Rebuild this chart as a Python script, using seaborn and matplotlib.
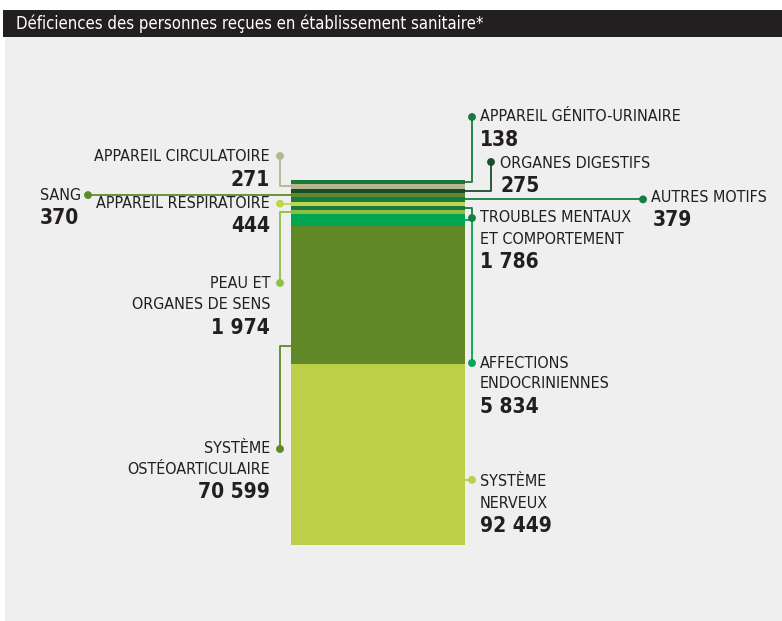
import matplotlib
matplotlib.use("Agg")
import matplotlib.pyplot as plt
import seaborn as sns
import numpy as np
from matplotlib.patches import Rectangle

title = "Déficiences des personnes reçues en établissement sanitaire*"

# slices of the column, listed from the top down
names = ["APPAREIL GÉNITO-URINAIRE", "APPAREIL CIRCULATOIRE", "ORGANES DIGESTIFS", "SANG",
         "AUTRES MOTIFS", "APPAREIL RESPIRATOIRE", "TROUBLES MENTAUX\nET COMPORTEMENT",
         "PEAU ET\nORGANES DE SENS", "AFFECTIONS\nENDOCRINIENNES", "SYSTÈME\nOSTÉOARTICULAIRE",
         "SYSTÈME\nNERVEUX"]
counts = [138, 271, 275, 370, 379, 444, 1786, 1974, 5834, 70599, 92449]
colors = ["#187a3c", "#b7b68c", "#1b4b2a", "#5f8a2a", "#187c42", "#c2d34c",
          "#1a7c3e", "#8cbf44", "#00a651", "#618826", "#bdcf48"]

sns.set_theme(style="white")
plt.rcParams["font.family"] = ["DejaVu Sans"]
plt.rcParams["font.stretch"] = "condensed"

W, H = 782, 621
fig = plt.figure(figsize=(W / 100, H / 100), dpi=100)
fig.patch.set_facecolor("white")

# background + title band, in pixel coords
bg = fig.add_axes([0, 0, 1, 1], zorder=0)
bg.set_xlim(0, W)
bg.set_ylim(H, 0)
bg.axis("off")
bg.add_patch(Rectangle((5, 37), W - 5, H - 37, color="#efefef", lw=0))
bg.add_patch(Rectangle((3, 10), W - 3, 27, color="#231f20", lw=0))
bg.text(16, 23.5, title, color="white", fontsize=12, va="center", ha="left")

# the column itself; the thin slices are given a minimum height so they stay visible
shown = np.maximum(np.array(counts), 2200)
total = shown.sum()
tops = total - np.concatenate([[0], np.cumsum(shown)[:-1]])
bottoms = tops - shown

bar_l, bar_r, bar_t, bar_b = 291, 465, 180, 545
ax = fig.add_axes([bar_l / W, (H - bar_b) / H, (bar_r - bar_l) / W, (bar_b - bar_t) / H], zorder=1)
for h, b, c in zip(shown, bottoms, colors):
    ax.bar(0, h, bottom=b, width=1, color=c, linewidth=0)
ax.set_xlim(-0.5, 0.5)
ax.set_ylim(0, total)
ax.axis("off")

# overlay for leaders and labels (pixel coords)
ov = fig.add_axes([0, 0, 1, 1], zorder=2)
ov.set_xlim(0, W)
ov.set_ylim(H, 0)
ov.axis("off")
ov.patch.set_alpha(0)

# side, where the leader leaves the slice (fraction from slice bottom), dot (x, y or None), label x, first line y
layout = [
    ("R", 0.5, (472, 117), 480, 116.5),
    ("L", 0.5, (280, 156), 270, 156.5),
    ("R", 0.5, (491, 162), 500, 163),
    ("L", 0.5, (88, None), 40, 195),
    ("R", 0.5, (643, None), 651, 197),
    ("L", 0.5, (280, None), 270, 203.5),
    ("R", 0.5, (472, 218), 480, 218),
    ("L", 0.5, (280, 283), 270, 283.5),
    ("R", 0.5, (472, 363), 480, 363),
    ("L", 0.13, (280, 449), 270, 448.5),
    ("R", 0.36, (472, None), 480, 482),
]

fig.canvas.draw()
dot_x, dot_y = [], []
for name, n, b, h, c, (side, frac, (dx, dy), tx, ty) in zip(names, counts, bottoms, shown, colors, layout):
    py = H - ax.transData.transform((0, b + frac * h))[1]
    ex = bar_r if side == "R" else bar_l
    if dy is None:
        dy = py
    ov.plot([ex, dx, dx], [py, py, dy], color=c, lw=1.3, solid_capstyle="butt")
    dot_x.append(dx)
    dot_y.append(dy)

    lines = name.split("\n")
    ha = "left" if (side == "R" or name == "SANG") else "right"
    nx = tx
    if name == "AUTRES MOTIFS":
        nx = tx + 2
    for k, line in enumerate(lines):
        ov.text(tx, ty + k * 21, line, fontsize=11.5, color="#231f20", ha=ha, va="center")
    ov.text(nx, ty + len(lines) * 21 + 2, f"{n:,}".replace(",", " "), fontsize=15,
            fontweight="bold", color="#231f20", ha=ha, va="center")

sns.scatterplot(x=dot_x, y=dot_y, hue=names, palette=dict(zip(names, colors)),
                s=32, linewidth=0, legend=False, ax=ov, zorder=3)
ov.set_xlim(0, W)
ov.set_ylim(H, 0)

fig.savefig("out.png", dpi=100)
